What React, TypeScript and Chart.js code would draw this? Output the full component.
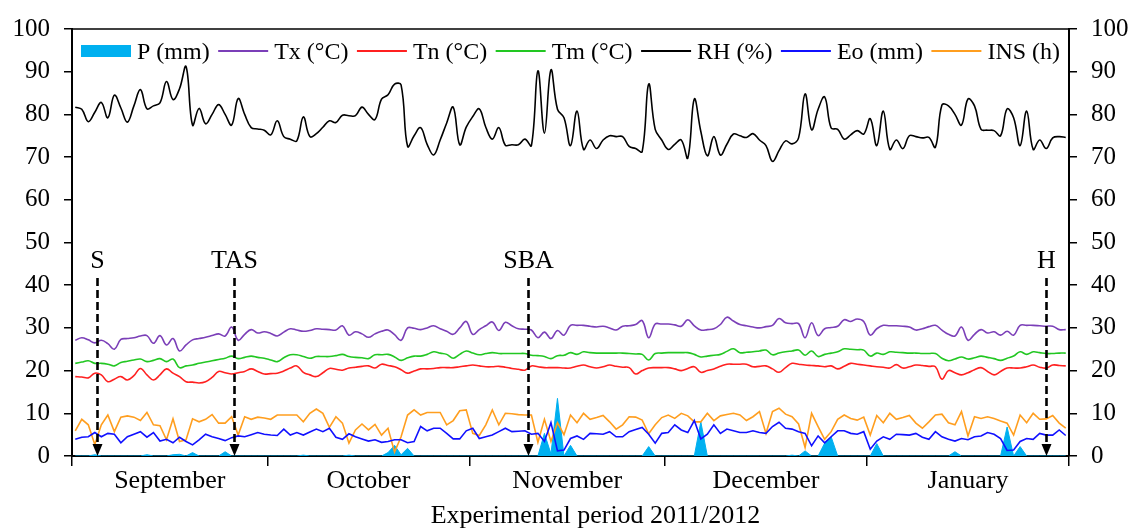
import React, { useEffect, useRef } from 'react';
import { Chart, registerables } from 'chart.js';

Chart.register(...registerables);

// ---------- data ----------
const MONTH_LABELS = ['September', 'October', 'November', 'December', 'January'];
const MONTH_LENGTHS = [30, 31, 30, 31, 31];
const Y_MIN = 0;
const Y_MAX = 100;
const Y_STEP = 10;
const AXIS_TITLE = 'Experimental period 2011/2012';

const EVENT_LABELS = ['S', 'TAS', 'SBA', 'H'];
const EVENT_DAYS = [3.3, 24.4, 69.5, 149.0];

const SERIES_LABELS = ['P (mm)', 'Tx (°C)', 'Tn (°C)', 'Tm (°C)', 'RH (%)', 'Eo (mm)', 'INS (h)'];

const P = [
  0, 0, 0, 0.3, 0, 0, 0, 0, 0, 0,
  0, 0.3, 0, 0, 0, 0.3, 0.4, 0, 0.8, 0,
  0, 0, 0, 1.0, 0, 0, 0, 0, 0, 0,
  0, 0, 0, 0, 0, 0.2, 0, 0, 0, 0,
  0, 0, 0.2, 0, 0, 0, 0, 0, 0.8, 2.5,
  0.3, 1.8, 0, 0, 0, 0, 0, 0, 0, 0,
  0, 0, 0, 0, 0, 0, 0, 0, 0, 0,
  0, 0, 5.3, 0.5, 13.5, 0, 2.5, 0, 0, 0,
  0, 0, 0, 0, 0, 0, 0, 0, 2.2, 0,
  0, 0, 0, 0, 0, 0, 8.0, 0, 0, 0,
  0, 0, 0, 0, 0, 0, 0, 0, 0, 0,
  0.2, 0, 1.2, 0, 0, 3.0, 4.5, 0, 0, 0,
  0, 0, 0, 2.9, 0, 0, 0, 0, 0, 0,
  0, 0, 0, 0, 0, 1.0, 0, 0, 0, 0,
  0, 0, 0, 6.8, 0, 2.2, 0, 0, 0, 0,
  0, 0, 0,
];

const TX = [
  27.1, 27.7, 27.2, 26.5, 27.1, 26.3, 25.0, 27.3, 27.5, 27.7,
  28.1, 28.2, 26.4, 28.2, 26.0, 27.5, 24.6, 26.0, 27.2, 27.5,
  27.8, 28.2, 28.6, 28.1, 30.2, 27.1, 28.5, 29.6, 28.8, 29.1,
  28.7, 28.1, 29.0, 29.8, 29.5, 29.2, 29.4, 29.8, 29.7, 29.6,
  29.5, 30.5, 28.3, 29.1, 28.6, 27.8, 28.6, 29.2, 29.5, 28.4,
  27.1, 30.0, 29.9, 29.6, 30.0, 30.5, 29.8, 29.2, 28.5, 30.0,
  31.5, 28.5, 29.6, 30.5, 31.4, 29.4, 31.3, 30.5, 29.8, 29.7,
  29.5, 27.7, 29.0, 27.5, 29.4, 28.3, 30.6, 30.6, 30.6, 30.4,
  30.2, 30.4, 30.0, 29.5, 30.4, 30.5, 30.8, 31.7, 27.7, 30.9,
  30.9, 30.9, 30.7, 30.4, 31.9, 30.5, 29.5, 29.6, 29.8, 30.8,
  32.5, 31.6, 30.8, 30.5, 30.2, 30.0, 30.3, 30.6, 32.2, 31.2,
  31.0, 31.0, 27.7, 31.2, 28.2, 29.8, 30.1, 30.4, 31.9, 31.5,
  32.1, 31.5, 28.3, 29.8, 30.6, 30.5, 30.5, 30.4, 30.2, 29.5,
  29.8, 30.3, 30.6, 29.5, 28.5, 28.1, 30.2, 27.1, 28.5, 29.6,
  28.8, 29.1, 28.3, 29.2, 28.3, 30.6, 30.6, 30.6, 30.5, 30.4,
  30.4, 29.6, 29.6,
];

const TN = [
  18.6, 18.5, 18.3, 19.4, 19.0, 17.4, 18.0, 18.6, 17.8, 18.8,
  20.5, 19.0, 17.8, 19.0, 20.4, 19.4, 18.6, 17.4, 17.3, 17.1,
  17.4, 18.4, 19.8, 19.5, 19.2, 19.5, 19.8, 20.4, 19.8, 19.2,
  19.3, 19.4, 19.9, 20.6, 21.1, 19.6, 19.0, 18.6, 19.5, 20.5,
  20.3, 20.1, 20.6, 20.8, 21.0, 21.1, 20.6, 21.5, 21.2, 20.9,
  20.2, 19.4, 19.9, 20.4, 20.4, 20.5, 20.7, 20.7, 20.7, 20.9,
  21.1, 21.3, 21.1, 20.9, 20.9, 21.0, 20.8, 20.5, 20.3, 20.1,
  21.1, 20.9, 20.7, 20.7, 20.7, 20.6, 20.6, 21.0, 21.3, 20.9,
  20.6, 20.9, 21.3, 21.0, 20.8, 20.7, 19.2, 20.0, 20.6, 20.7,
  20.7, 20.7, 20.4, 20.0, 20.5, 20.9, 19.6, 20.0, 20.4, 21.0,
  21.5, 21.5, 21.5, 21.5, 20.9, 21.0, 21.1, 20.4, 19.6, 20.7,
  21.7, 21.5, 21.3, 21.2, 21.1, 20.9, 21.1, 20.4, 21.0, 21.7,
  21.5, 21.3, 21.1, 20.9, 20.8, 20.6, 21.4, 20.6, 20.9, 21.3,
  21.2, 21.0, 20.9, 18.0, 20.0, 19.5, 19.0, 19.5, 20.2, 20.7,
  19.8, 19.0, 19.8, 20.6, 20.6, 20.6, 20.9, 21.3, 20.8, 20.6,
  21.3, 21.2, 21.1,
];

const TM = [
  21.7, 22.0, 22.3, 21.7, 21.7, 21.5, 21.1, 21.9, 22.2, 22.5,
  22.7, 22.1, 22.4, 22.8, 22.1, 22.7, 20.7, 21.1, 21.3, 21.7,
  22.0, 22.3, 22.6, 22.9, 23.4, 22.8, 23.1, 23.4, 23.1, 22.9,
  22.5, 22.1, 23.0, 23.7, 23.7, 23.3, 22.9, 23.3, 23.3, 23.3,
  23.5, 23.8, 23.3, 23.1, 23.0, 22.8, 23.7, 23.7, 23.8, 23.2,
  22.4, 23.0, 23.4, 23.4, 23.8, 24.4, 24.1, 23.8, 22.9, 23.8,
  24.6, 24.1, 23.7, 24.0, 24.2, 24.0, 24.0, 24.0, 24.0, 24.0,
  23.6, 23.5, 23.3, 22.8, 23.5, 23.6, 24.2, 23.8, 24.4, 24.2,
  24.1, 24.1, 24.1, 24.1, 24.1, 24.0, 23.9, 23.8, 22.5, 24.0,
  24.1, 24.2, 24.2, 24.2, 24.2, 23.8, 23.2, 23.4, 23.6, 23.8,
  24.5, 25.1, 24.2, 24.3, 24.4, 24.6, 24.8, 23.7, 24.1, 24.4,
  24.6, 24.8, 23.6, 24.6, 23.3, 23.8, 24.1, 24.4, 25.1, 25.0,
  24.9, 24.8, 23.4, 24.1, 23.8, 24.4, 24.3, 24.2, 24.1, 24.1,
  24.0, 24.0, 24.0, 22.9, 22.3, 22.7, 23.2, 22.7, 23.0, 23.4,
  23.1, 22.8, 22.4, 22.9, 23.4, 24.4, 23.8, 24.4, 24.2, 24.0,
  24.0, 24.1, 24.1,
];

const RH = [
  81.7, 81.2, 78.3, 80.5, 82.8, 79.2, 84.5, 81.5, 78.2, 82.0,
  85.8, 81.3, 82.0, 82.7, 87.7, 83.5, 86.0, 91.2, 77.5, 81.4,
  77.8, 80.0, 82.3, 80.0, 77.5, 83.7, 80.0, 76.9, 76.6, 76.3,
  75.2, 78.5, 74.8, 74.2, 73.8, 79.4, 74.8, 75.5, 77.0, 78.5,
  78.1, 79.8, 79.7, 79.7, 81.7, 80.0, 78.8, 83.6, 84.6, 87.1,
  86.9, 72.5, 75.0, 76.9, 73.0, 70.5, 74.0, 78.0, 81.7, 72.9,
  77.0, 79.5, 81.3, 77.0, 74.2, 76.9, 72.8, 72.9, 72.9, 74.2,
  72.7, 90.2, 75.6, 90.4, 81.2, 79.2, 72.7, 80.8, 71.8, 74.0,
  72.0, 74.0, 75.0, 74.8, 74.8, 72.5, 72.0, 71.3, 87.1, 76.5,
  74.0, 71.8, 73.0, 74.0, 69.8, 83.6, 76.0, 70.3, 74.8, 70.5,
  73.0, 75.4, 75.0, 74.6, 75.5, 74.0, 72.7, 69.0, 71.5, 73.8,
  73.1, 74.5, 84.8, 76.4, 81.2, 84.1, 76.8, 76.5, 74.2, 75.2,
  76.2, 75.4, 79.0, 72.7, 80.8, 71.8, 74.0, 72.0, 75.0, 74.8,
  74.5, 74.6, 72.3, 82.2, 82.0, 80.0, 77.5, 83.6, 82.0, 76.5,
  76.3, 76.2, 75.0, 81.3, 79.2, 72.7, 80.8, 71.8, 74.0, 72.0,
  74.5, 74.8, 74.6,
];

const EO = [
  3.9, 4.4, 4.5, 5.5, 4.5, 5.3, 5.1, 3.1, 4.5, 5.1,
  5.7, 4.4, 5.5, 3.5, 3.9, 3.1, 4.4, 3.4, 2.6, 3.8,
  5.1, 4.5, 4.1, 3.6, 4.3, 4.7, 4.5, 5.0, 5.5, 5.1,
  4.9, 4.8, 6.3, 4.9, 5.5, 4.9, 5.6, 6.3, 5.7, 6.5,
  4.4, 3.9, 5.2, 4.5, 4.0, 3.5, 3.8, 3.2, 3.4, 3.8,
  3.8, 3.1, 3.4, 6.9, 5.9, 6.5, 6.5, 5.3, 4.0, 4.0,
  5.9, 6.5, 4.1, 4.5, 4.9, 5.7, 6.5, 5.7, 5.8, 5.9,
  5.1, 5.3, 3.4, 7.8, 1.2, 1.4, 4.1, 4.7, 3.9, 5.3,
  5.2, 5.1, 5.7, 4.5, 4.5, 5.7, 6.2, 6.7, 5.1, 3.0,
  5.3, 5.5, 7.3, 6.1, 5.5, 8.3, 4.0, 5.1, 7.3, 5.3,
  6.3, 5.9, 5.5, 5.5, 5.9, 5.5, 5.3, 6.9, 7.9, 6.5,
  6.3, 5.7, 5.3, 2.4, 4.7, 3.1, 4.5, 5.9, 5.9, 5.3,
  5.1, 5.7, 1.6, 3.5, 4.5, 3.9, 5.1, 5.0, 4.9, 5.3,
  4.4, 3.9, 5.7, 4.5, 3.9, 3.5, 4.1, 3.8, 4.5, 4.7,
  5.5, 5.1, 4.1, 1.3, 1.4, 3.4, 4.1, 3.9, 5.3, 4.9,
  4.9, 6.1, 4.8,
];

const INS = [
  5.9, 8.6, 7.3, 2.7, 7.3, 9.6, 5.7, 9.1, 9.4, 9.1,
  8.3, 10.2, 7.3, 7.1, 3.8, 8.7, 3.4, 3.8, 8.7, 8.0,
  8.6, 9.7, 7.7, 7.7, 9.2, 4.9, 9.2, 8.6, 9.1, 8.9,
  8.6, 9.6, 9.6, 9.6, 9.6, 8.0, 10.0, 11.0, 10.0, 6.7,
  9.2, 7.7, 3.0, 6.1, 7.5, 6.1, 7.4, 4.9, 6.5, 0.9,
  4.5, 9.6, 10.8, 9.6, 10.2, 10.2, 10.2, 7.3, 8.3, 10.6,
  10.8, 5.3, 4.8, 7.3, 10.8, 7.3, 10.0, 9.9, 9.7, 9.6,
  9.6, 3.2, 8.6, 3.4, 7.8, 5.0, 9.6, 7.8, 10.0, 8.6,
  9.0, 9.5, 8.0, 6.3, 7.3, 9.2, 9.1, 8.4, 5.2, 7.3,
  9.0, 9.6, 8.8, 10.0, 9.4, 8.0, 8.0, 10.0, 8.3, 9.4,
  9.7, 10.0, 9.6, 8.3, 9.2, 10.4, 5.3, 10.4, 11.2, 9.8,
  9.2, 7.5, 2.0, 10.0, 6.9, 3.9, 5.7, 8.6, 9.6, 8.8,
  8.4, 9.1, 4.9, 9.5, 7.8, 10.0, 8.6, 9.0, 9.5, 7.7,
  6.5, 8.0, 9.6, 9.8, 7.8, 7.3, 10.4, 4.7, 9.2, 8.8,
  9.2, 8.8, 8.2, 7.7, 4.9, 9.6, 7.8, 10.0, 8.6, 8.7,
  9.5, 7.7, 6.5,
];

// ---------- derived tables for the library ----------
const DAY_INDEX = P.map((_, i) => i);
const X_MIN = -0.5;
const X_MAX = X_MIN + MONTH_LENGTHS.reduce((a, b) => a + b, 0);
const MONTH_BOUNDS = MONTH_LENGTHS.reduce((acc, len) => [...acc, acc[acc.length - 1] + len], [X_MIN]);
const MONTH_CENTERS = MONTH_LENGTHS.map((_, i) => (MONTH_BOUNDS[i] + MONTH_BOUNDS[i + 1]) / 2);

const FONT = '"Liberation Serif", "Times New Roman", serif';

const COLORS = {
  p: '#00B0F0',
  tx: '#7B3FB8',
  tn: '#FF2020',
  tm: '#22C722',
  rh: '#000000',
  eo: '#1010FF',
  ins: '#FF9E1F',
};

const legendPlugin = {
  id: 'insideLegend',
  afterDatasetsDraw(chart: any) {
    const { ctx, chartArea } = chart;
    const symW = 50;
    let x = chartArea.left + 9;
    const cy = chartArea.top + 22;
    ctx.save();
    ctx.font = `24px ${FONT}`;
    ctx.textBaseline = 'alphabetic';
    ctx.textAlign = 'left';
    chart.data.datasets.forEach((ds: any) => {
      if (ds.fill) {
        ctx.fillStyle = ds.backgroundColor;
        ctx.fillRect(x, cy - 6, symW, 12);
      } else {
        ctx.strokeStyle = ds.borderColor;
        ctx.lineWidth = 2;
        ctx.beginPath();
        ctx.moveTo(x, cy);
        ctx.lineTo(x + symW, cy);
        ctx.stroke();
      }
      x += symW + 6;
      ctx.fillStyle = '#000';
      ctx.fillText(ds.label, x, cy + 7.5);
      x += ctx.measureText(ds.label).width + 8.5;
    });
    ctx.restore();
  },
};

const framePlugin = {
  id: 'frameTop',
  afterDatasetsDraw(chart: any) {
    const { ctx, chartArea } = chart;
    ctx.save();
    ctx.strokeStyle = '#000';
    ctx.lineWidth = 1.5;
    ctx.beginPath();
    ctx.moveTo(chartArea.left, chartArea.top);
    ctx.lineTo(chartArea.right, chartArea.top);
    ctx.stroke();
    ctx.restore();
  },
};

const eventsPlugin = {
  id: 'events',
  afterDatasetsDraw(chart: any) {
    const { ctx } = chart;
    const xs = chart.scales.x;
    const ys = chart.scales.y;
    const yTop = ys.getPixelForValue(41.7);
    const yBase = ys.getPixelForValue(0);
    const yLabel = ys.getPixelForValue(44.1);
    ctx.save();
    EVENT_DAYS.forEach((d, i) => {
      const x = Math.round(xs.getPixelForValue(d)) + 0.5;
      ctx.strokeStyle = '#000';
      ctx.lineWidth = 2.6;
      ctx.setLineDash([8, 4]);
      ctx.beginPath();
      ctx.moveTo(x, yTop);
      ctx.lineTo(x, yBase - 11);
      ctx.stroke();
      ctx.setLineDash([]);
      ctx.fillStyle = '#000';
      ctx.beginPath();
      ctx.moveTo(x - 5, yBase - 12);
      ctx.lineTo(x + 5, yBase - 12);
      ctx.lineTo(x, yBase);
      ctx.closePath();
      ctx.fill();
      ctx.font = `26px ${FONT}`;
      ctx.textAlign = 'center';
      ctx.textBaseline = 'alphabetic';
      ctx.fillText(EVENT_LABELS[i], x, yLabel);
    });
    ctx.restore();
  },
};

const titlePlugin = {
  id: 'xTitle',
  afterDraw(chart: any) {
    const { ctx, chartArea } = chart;
    ctx.save();
    ctx.font = `26px ${FONT}`;
    ctx.fillStyle = '#000';
    ctx.textAlign = 'center';
    ctx.textBaseline = 'alphabetic';
    ctx.fillText(AXIS_TITLE, (chartArea.left + chartArea.right) / 2 + 25, chartArea.bottom + 66.5);
    ctx.restore();
  },
};

export default function App() {
  const ref = useRef<HTMLCanvasElement | null>(null);

  useEffect(() => {
    if (!ref.current) return;
    Chart.defaults.font.family = FONT;
    Chart.defaults.color = '#000';

    const line = (label: string, data: number[], color: string, tension: number) => ({
      type: 'line' as const,
      label,
      data,
      borderColor: color,
      backgroundColor: color,
      borderWidth: 1.6,
      pointRadius: 0,
      tension,
      fill: false,
      order: 0,
      xAxisID: 'x',
      yAxisID: 'y',
    });

    const chart = new Chart(ref.current, {
      type: 'line',
      data: {
        labels: DAY_INDEX,
        datasets: [
          {
            type: 'line',
            label: SERIES_LABELS[0],
            data: P,
            borderColor: COLORS.p,
            backgroundColor: COLORS.p,
            borderWidth: 1,
            pointRadius: 0,
            tension: 0,
            fill: 'origin',
            order: 1,
            xAxisID: 'x',
            yAxisID: 'y',
          },
          line(SERIES_LABELS[1], TX, COLORS.tx, 0.4),
          line(SERIES_LABELS[2], TN, COLORS.tn, 0.4),
          line(SERIES_LABELS[3], TM, COLORS.tm, 0.4),
          line(SERIES_LABELS[4], RH, COLORS.rh, 0.4),
          line(SERIES_LABELS[5], EO, COLORS.eo, 0),
          line(SERIES_LABELS[6], INS, COLORS.ins, 0),
        ] as any,
      },
      options: {
        animation: false,
        responsive: false,
        devicePixelRatio: 1,
        layout: { padding: { top: 24, left: 0, right: 0, bottom: 0 } },
        plugins: {
          legend: { display: false },
          tooltip: { enabled: false },
        },
        scales: {
          x: {
            type: 'linear',
            position: 'bottom',
            weight: 0,
            min: X_MIN,
            max: X_MAX,
            afterBuildTicks: (s: any) => {
              s.ticks = MONTH_BOUNDS.map((v) => ({ value: v }));
            },
            afterFit: (s: any) => {
              s.height = 10;
            },
            ticks: { display: false },
            grid: {
              drawOnChartArea: false,
              drawTicks: true,
              tickLength: 10,
              color: '#000',
              lineWidth: 1.5,
            },
            border: { display: true, color: '#000', width: 2 },
          },
          x2: {
            type: 'linear',
            position: 'bottom',
            weight: 1,
            min: X_MIN,
            max: X_MAX,
            afterBuildTicks: (s: any) => {
              s.ticks = MONTH_CENTERS.map((v) => ({ value: v }));
            },
            afterFit: (s: any) => {
              s.height = 66;
            },
            ticks: {
              callback: (_v: any, i: number) => MONTH_LABELS[i],
              font: { size: 26, family: FONT },
              color: '#000',
              padding: 0,
              maxRotation: 0,
              autoSkip: false,
            },
            grid: { display: false, drawTicks: false },
            border: { display: false },
          },
          y: {
            type: 'linear',
            position: 'left',
            min: Y_MIN,
            max: Y_MAX,
            afterFit: (s: any) => {
              s.width = 72;
            },
            ticks: { stepSize: Y_STEP, font: { size: 25, family: FONT }, color: '#000', padding: 14 },
            grid: { drawOnChartArea: false, drawTicks: true, tickLength: 8, color: '#000', lineWidth: 1.5 },
            border: { display: true, color: '#000', width: 2 },
          },
          y2: {
            type: 'linear',
            position: 'right',
            min: Y_MIN,
            max: Y_MAX,
            afterFit: (s: any) => {
              s.width = 65;
            },
            ticks: { stepSize: Y_STEP, font: { size: 25, family: FONT }, color: '#000', padding: 14 },
            grid: { drawOnChartArea: false, drawTicks: true, tickLength: 8, color: '#000', lineWidth: 1.5 },
            border: { display: true, color: '#000', width: 2 },
          },
        },
      } as any,
      plugins: [framePlugin, eventsPlugin, legendPlugin, titlePlugin],
    });

    return () => chart.destroy();
  }, []);

  return (
    <div style={{ position: 'fixed', left: 0, top: 0, width: 1134, height: 532, background: '#fff' }}>
      <canvas ref={ref} width={1134} height={532} />
    </div>
  );
}
